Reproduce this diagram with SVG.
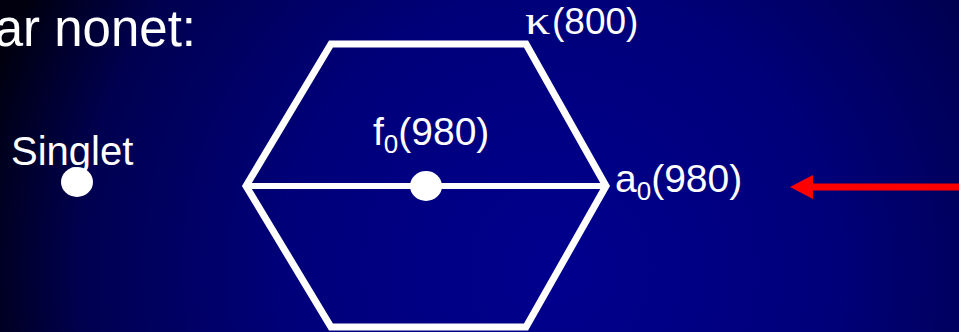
<svg xmlns="http://www.w3.org/2000/svg" width="959" height="332" viewBox="0 0 959 332">
<style>
.t{font-family:"Liberation Sans",Arial,sans-serif;fill:#fff}
.s{font-family:"Liberation Serif","Times New Roman",serif;fill:#fff}
.hex{fill:none;stroke:#fff;stroke-width:7;stroke-linejoin:miter}
.dot{fill:#fff}
</style>
<defs>
<radialGradient id="bg" gradientUnits="userSpaceOnUse" cx="560" cy="270" r="600">
<stop offset="0" stop-color="#00008e"/>
<stop offset="0.45" stop-color="#00007a"/>
<stop offset="0.8" stop-color="#000050"/>
<stop offset="1" stop-color="#00000e"/>
</radialGradient>
</defs>
<rect width="959" height="332" fill="url(#bg)"/>
<text class="t" x="196" y="46" font-size="51" text-anchor="end">ar nonet:</text>
<g id="nonet">
<polygon class="hex" points="246,186 331,44 526,44 606,186 526,327 331,327"/>
<line x1="246" y1="186" x2="606" y2="186" stroke="#fff" stroke-width="6"/>
</g>
<g id="singlet">
<text class="t" x="11" y="165" font-size="40">Singlet</text>
<ellipse class="dot" cx="77" cy="182" rx="16" ry="15"/>
</g>
<g id="f0">
<text class="t" x="373" y="145" font-size="39">f<tspan font-size="26" dy="8">0</tspan><tspan dy="-8">(980)</tspan></text>
<ellipse class="dot" cx="426" cy="186" rx="16" ry="15"/>
</g>
<g id="kappa">
<text class="s" transform="translate(525,34) scale(1.25,1)" font-size="40">κ</text>
<text class="t" x="552" y="34" font-size="37">(800)</text>
</g>
<g id="a0">
<text class="t" x="615" y="192" font-size="39">a<tspan font-size="26" dy="8">0</tspan><tspan dy="-8">(980)</tspan></text>
</g>
<g id="connectors">
<line x1="959" y1="187" x2="810" y2="187" stroke="#ff0000" stroke-width="7"/>
<polygon points="790,187 813,175 813,199" fill="#ff0000"/>
</g>
</svg>
